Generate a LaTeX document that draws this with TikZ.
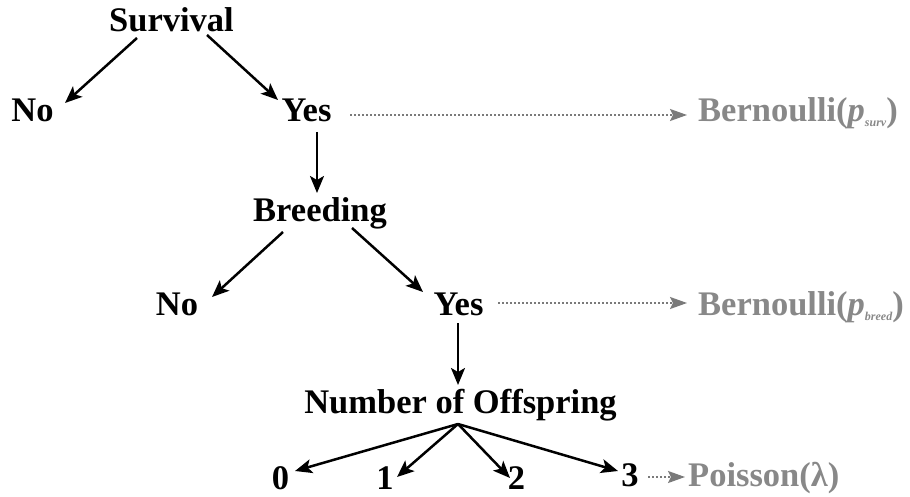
\documentclass[tikz,border=0pt]{standalone}
\usepackage{fontspec}
\setmainfont{Liberation Serif}
\usetikzlibrary{arrows.meta}
\definecolor{tgray}{HTML}{888888}
\definecolor{agray}{HTML}{7A7A7A}
\tikzset{
  lbl/.style={anchor=base, inner sep=0pt, font=\fontsize{34.5}{40}\selectfont\bfseries},
  glbl/.style={anchor=base west, inner sep=0pt, text=tgray, font=\fontsize{34.5}{40}\selectfont\bfseries},
  arr/.style={line width=2.5pt, -{Stealth[length=17pt,width=14pt,inset=4pt]}},
  darr/.style={agray, line width=2pt, dash pattern=on 2pt off 2pt, -{Stealth[length=17pt,width=12pt,inset=3pt]}},
}
\newcommand{\psub}[1]{\textit{p}\raisebox{-5pt}{\fontsize{12}{12}\selectfont\itshape #1}}
\begin{document}
\begin{tikzpicture}[x=1pt,y=-1pt]
\useasboundingbox (0,0) rectangle (910,497);
\node[lbl] (surv) at (171.5,32) {Survival};
\node[lbl] (no1) at (32.5,122) {No};
\node[lbl] (yes1) at (306.5,122) {Yes};
\node[lbl] (breed) at (320,222) {Breeding};
\node[lbl] (no2) at (177,315) {No};
\node[lbl] (yes2) at (458.5,315) {Yes};
\node[lbl] (off) at (460.5,413) {Number of Offspring};
\node[lbl] (d0) at (280.5,489) {0};
\node[lbl] (d1) at (385,489) {1};
\node[lbl] (d2) at (516.5,489) {2};
\node[lbl] (d3) at (630,486) {3};
\node[glbl] (bern1) at (698,122) {Bernoulli(\psub{surv})};
\node[glbl] (bern2) at (698,315) {Bernoulli(\psub{breed})};
\node[glbl] (pois) at (688,486) {Poisson(λ)};

\draw[arr] ([shift={(-34.5,6)}]surv.base) -- ([shift={(32.5,-19)}]no1.base);
\draw[arr] ([shift={(35.5,3)}]surv.base) -- ([shift={(-28.5,-22)}]yes1.base);
\draw[arr] ([shift={(10.5,10)}]yes1.base) -- ([shift={(-3,-29)}]breed.base);
\draw[arr] ([shift={(-37,10)}]breed.base) -- ([shift={(35,-18)}]no2.base);
\draw[arr] ([shift={(32,6)}]breed.base) -- ([shift={(-35.5,-23)}]yes2.base);
\draw[arr] ([shift={(-0.5,8)}]yes2.base) -- ([shift={(-2.5,-28)}]off.base);
\draw[arr] ([shift={(-2.5,11)}]off.base) -- ([shift={(14.5,-18)}]d0.base);
\draw[arr] ([shift={(-2.5,11)}]off.base) -- ([shift={(12,-12)}]d1.base);
\draw[arr] ([shift={(-2.5,11)}]off.base) -- ([shift={(-6.5,-11)}]d2.base);
\draw[arr] ([shift={(-2.5,11)}]off.base) -- ([shift={(-12,-15)}]d3.base);
\draw[darr] ([shift={(43.5,-7)}]yes1.base) -- ([shift={(-11,-7)}]bern1.base west);
\draw[darr] ([shift={(39.5,-12)}]yes2.base) -- ([shift={(-11,-12)}]bern2.base west);
\draw[darr] ([shift={(18,-9)}]d3.base) -- ([shift={(-3,-9)}]pois.base west);
\end{tikzpicture}
\end{document}
